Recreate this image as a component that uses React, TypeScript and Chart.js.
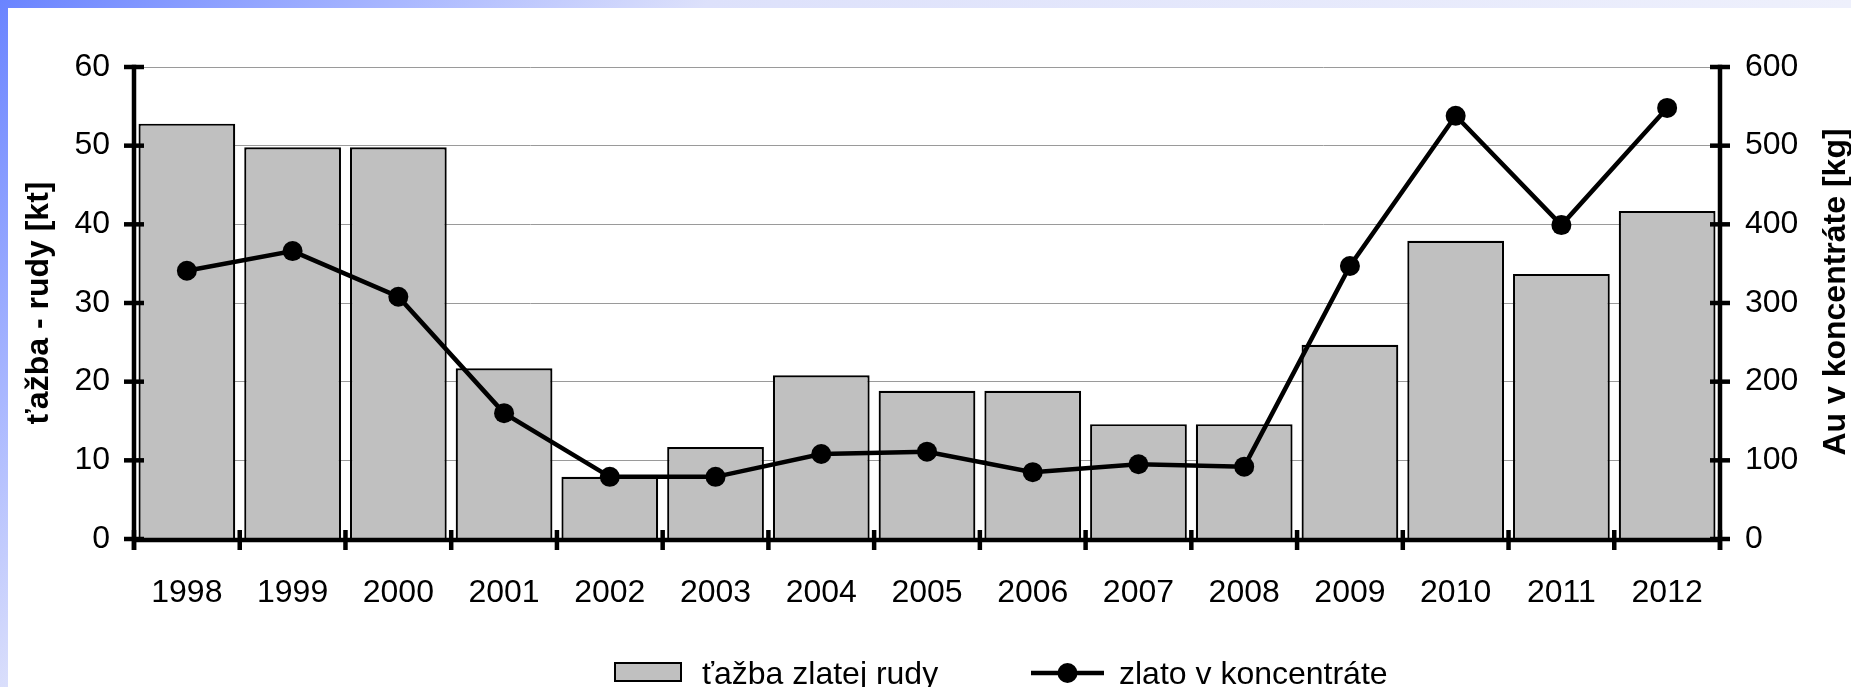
import React, { useEffect, useRef } from 'react';
import { Chart, registerables } from 'chart.js';

Chart.register(...registerables);

const years = ['1998', '1999', '2000', '2001', '2002', '2003', '2004', '2005', '2006', '2007', '2008', '2009', '2010', '2011', '2012'];
const oreMining = [52.8, 49.8, 49.8, 21.7, 7.9, 11.7, 20.8, 18.85, 18.85, 14.6, 14.6, 24.7, 37.9, 33.7, 41.7];
const goldInConcentrate = [341, 366, 308, 160, 79, 79, 108, 111, 85, 95, 92, 347, 538, 399, 548];
const leftTicks = [0, 10, 20, 30, 40, 50, 60];
const rightTicks = [0, 100, 200, 300, 400, 500, 600];
const barLabel = 'ťažba zlatej rudy';
const lineLabel = 'zlato v koncentráte';
const leftTitle = 'ťažba - rudy [kt]';
const rightTitle = 'Au v koncentráte [kg]';

const FONT = '"Liberation Sans", Arial, sans-serif';

const axesPlugin = {
  id: 'excelAxes',
  afterDraw(chart: any) {
    const { ctx, chartArea, scales } = chart;
    const x = scales.x;
    const y = scales.y;
    const y1 = scales.y1;
    const lw = 4.5;
    const half = 10;
    ctx.save();
    ctx.strokeStyle = '#000';
    ctx.lineWidth = lw;
    ctx.lineCap = 'butt';
    const bottom = y.getPixelForValue(0) + 1;
    // x axis line
    ctx.beginPath();
    ctx.moveTo(chartArea.left, bottom);
    ctx.lineTo(chartArea.right, bottom);
    ctx.stroke();
    // left axis
    ctx.beginPath();
    ctx.moveTo(chartArea.left, y.getPixelForValue(60) - lw / 2);
    ctx.lineTo(chartArea.left, bottom + half);
    ctx.stroke();
    // right axis
    ctx.beginPath();
    ctx.moveTo(chartArea.right, y1.getPixelForValue(600) - lw / 2);
    ctx.lineTo(chartArea.right, bottom + half);
    ctx.stroke();
    // left ticks
    leftTicks.forEach((v) => {
      const p = y.getPixelForValue(v);
      ctx.beginPath();
      ctx.moveTo(chartArea.left - half, p);
      ctx.lineTo(chartArea.left + half, p);
      ctx.stroke();
    });
    rightTicks.forEach((v) => {
      const p = y1.getPixelForValue(v);
      ctx.beginPath();
      ctx.moveTo(chartArea.right - half, p);
      ctx.lineTo(chartArea.right + half, p);
      ctx.stroke();
    });
    // x ticks at category boundaries
    const n = years.length;
    for (let i = 0; i <= n; i++) {
      let px: number;
      if (i === 0) px = x.getPixelForValue(0) - (x.getPixelForValue(1) - x.getPixelForValue(0)) / 2;
      else if (i === n) px = x.getPixelForValue(n - 1) + (x.getPixelForValue(n - 1) - x.getPixelForValue(n - 2)) / 2;
      else px = (x.getPixelForValue(i - 1) + x.getPixelForValue(i)) / 2;
      ctx.beginPath();
      ctx.moveTo(px, bottom - half);
      ctx.lineTo(px, bottom + half);
      ctx.stroke();
    }
    // right axis title (reads bottom to top)
    ctx.fillStyle = '#000';
    ctx.font = `bold 32px ${FONT}`;
    ctx.textAlign = 'center';
    ctx.textBaseline = 'alphabetic';
    ctx.translate(chart.width - 6, (chartArea.top + chartArea.bottom) / 2 - 11);
    ctx.rotate(-Math.PI / 2);
    ctx.fillText(rightTitle, 0, 0);
    ctx.restore();

    // legend
    ctx.save();
    const ds0 = chart.data.datasets[0];
    const ds1 = chart.data.datasets[1];
    const cx = (chartArea.left + chartArea.right) / 2;
    const baseY = chart.height - 3;
    const boxTop = chart.height - 25;
    const boxH = 20;
    // bar item
    let lx = cx - 313;
    ctx.fillStyle = ds0.backgroundColor;
    ctx.fillRect(lx, boxTop, 68, boxH);
    ctx.lineWidth = 2;
    ctx.strokeStyle = ds0.borderColor;
    ctx.strokeRect(lx + 1, boxTop + 1, 66, boxH - 2);
    ctx.fillStyle = '#000';
    ctx.font = `32px ${FONT}`;
    ctx.textAlign = 'left';
    ctx.textBaseline = 'alphabetic';
    ctx.fillText(ds0.label, lx + 88, baseY);
    // line item
    lx = cx + 104;
    const ly = boxTop + boxH / 2 + 1;
    ctx.strokeStyle = ds1.borderColor;
    ctx.lineWidth = 4.5;
    ctx.beginPath();
    ctx.moveTo(lx, ly);
    ctx.lineTo(lx + 73, ly);
    ctx.stroke();
    ctx.fillStyle = ds1.pointBackgroundColor;
    ctx.beginPath();
    ctx.arc(lx + 36.5, ly, 10, 0, Math.PI * 2);
    ctx.fill();
    ctx.fillStyle = '#000';
    ctx.fillText(ds1.label, lx + 88, baseY);
    ctx.restore();
  },
};

export default function App() {
  const ref = useRef<HTMLCanvasElement | null>(null);
  useEffect(() => {
    if (!ref.current) return;
    const chart = new Chart(ref.current, {
      type: 'bar',
      data: {
        labels: years,
        datasets: [
          {
            type: 'bar',
            label: barLabel,
            data: oreMining,
            backgroundColor: '#c0c0c0',
            borderColor: '#000000',
            borderWidth: 2.2,
            borderSkipped: 'start',
            barPercentage: 0.915,
            categoryPercentage: 1,
            yAxisID: 'y',
            order: 2,
          },
          {
            type: 'line',
            label: lineLabel,
            data: goldInConcentrate,
            borderColor: '#000000',
            backgroundColor: '#000000',
            pointBackgroundColor: '#000000',
            pointBorderColor: '#000000',
            borderWidth: 4.5,
            pointRadius: 10,
            pointBorderWidth: 0,
            tension: 0,
            yAxisID: 'y1',
            order: 1,
          } as any,
        ],
      },
      options: {
        responsive: false,
        animation: false,
        events: [],
        layout: { padding: { top: 59, left: 0, right: 0, bottom: 0 } },
        plugins: {
          legend: { display: false },
          tooltip: { enabled: false },
          title: { display: false },
        },
        scales: {
          x: {
            type: 'category',
            offset: true,
            grid: { display: false, drawTicks: false },
            border: { display: false },
            ticks: {
              color: '#000',
              font: { family: FONT, size: 32 },
              padding: 35,
              maxRotation: 0,
              autoSkip: false,
            },
            afterFit: (s: any) => {
              s.height = 148;
            },
          },
          y: {
            type: 'linear',
            position: 'left',
            min: 0,
            max: 60,
            afterBuildTicks: (s: any) => {
              s.ticks = leftTicks.map((v) => ({ value: v }));
            },
            grid: { color: '#9a9a9a', lineWidth: 1, drawTicks: false },
            border: { display: false },
            ticks: {
              color: '#000',
              font: { family: FONT, size: 32 },
              padding: 24,
            },
            title: {
              display: true,
              text: leftTitle,
              color: '#000',
              font: { family: FONT, size: 32, weight: 'bold' },
              padding: { top: 12, bottom: 0 },
            },
            afterFit: (s: any) => {
              s.width = 126;
            },
          },
          y1: {
            type: 'linear',
            position: 'right',
            min: 0,
            max: 600,
            afterBuildTicks: (s: any) => {
              s.ticks = rightTicks.map((v) => ({ value: v }));
            },
            grid: { display: false, drawTicks: false },
            border: { display: false },
            ticks: {
              color: '#000',
              font: { family: FONT, size: 32 },
              padding: 25,
            },
            afterFit: (s: any) => {
              s.width = 131;
            },
          },
        },
      },
      plugins: [axesPlugin],
    });
    return () => chart.destroy();
  }, []);

  return (
    <div
      style={{
        position: 'fixed',
        left: 0,
        top: 0,
        width: 1851,
        height: 687,
        overflow: 'hidden',
        background:
          'linear-gradient(135deg, #6a84ff 0%, #aab8ff 16%, #dde1fb 28%, #eef0fc 73%, #f4f5fd 100%)',
      }}
    >
      <div style={{ position: 'absolute', left: 8, top: 8, width: 1843, height: 679, background: '#fff' }}>
        <canvas ref={ref} width={1843} height={679} style={{ display: 'block', width: 1843, height: 679 }} />
      </div>
    </div>
  );
}
